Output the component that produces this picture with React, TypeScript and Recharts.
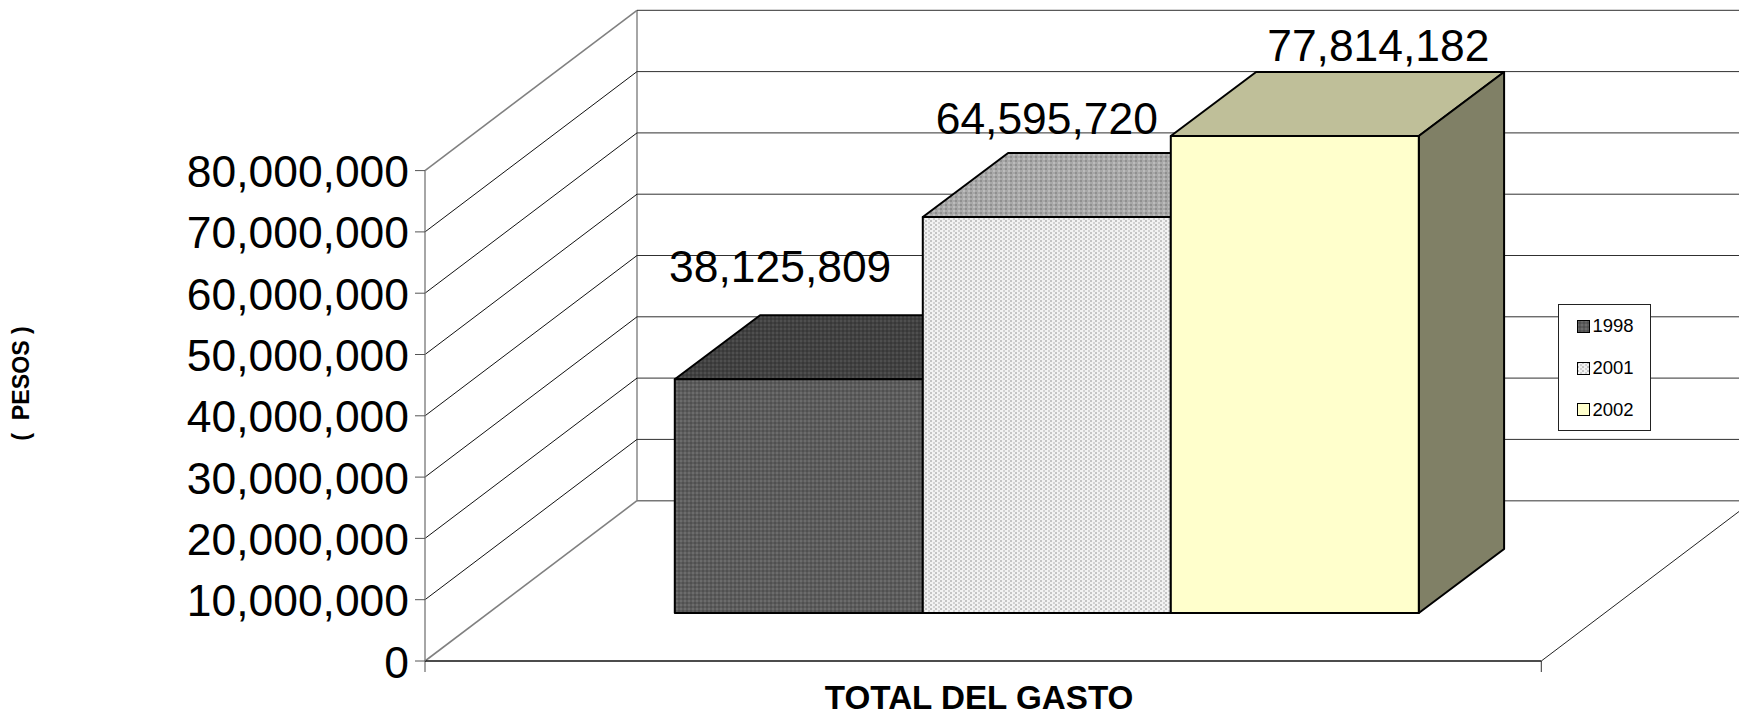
import { Bar, BarChart, CartesianGrid, LabelList, Legend, XAxis, YAxis } from "recharts";

const categories = ["TOTAL DEL GASTO"];
const series1998 = [38125809];
const series2001 = [64595720];
const series2002 = [77814182];
const yTicks = [0, 10000000, 20000000, 30000000, 40000000, 50000000, 60000000, 70000000, 80000000];

const data = categories.map((name, i) => ({
  name,
  y1998: series1998[i],
  y2001: series2001[i],
  y2002: series2002[i],
}));

const WIDTH = 1739;
const HEIGHT = 712;
const FONT = '"Liberation Sans", Arial, sans-serif';

// oblique offsets of the fake 3D box
const WALL = { dx: 212, dy: 160.3 };
const BAR_FRONT = { dx: 64.3, dy: 48 };
const BAR_DEPTH = { dx: 85.3, dy: 64 };

const topFill: Record<string, string> = {
  y1998: "url(#top1998)",
  y2001: "url(#top2001)",
  y2002: "#bfbf99",
};
const sideFill: Record<string, string> = {
  y1998: "#333333",
  y2001: "#777777",
  y2002: "#808066",
};

function GridLine(props: any) {
  const { x1, x2, y1, x, y, height } = props;
  const isFloor = Math.abs(y1 - (y + height)) < 1;
  const isTop = Math.abs(y1 - y) < 1;
  const edge = isFloor || isTop;
  const rearY = y1 - WALL.dy;
  return (
    <g>
      <line
        x1={x1}
        y1={y1}
        x2={x1 + WALL.dx}
        y2={rearY}
        stroke={edge ? "#808080" : "#111111"}
        strokeWidth={edge ? 1.6 : 1}
      />
      <line
        x1={x1 + WALL.dx}
        y1={rearY}
        x2={x2 + WALL.dx}
        y2={rearY}
        stroke={isFloor ? "#777777" : "#303030"}
        strokeWidth={isFloor ? 1.6 : 1}
      />
      {isFloor && (
        <>
          <line
            x1={x1 + WALL.dx}
            y1={y - WALL.dy}
            x2={x1 + WALL.dx}
            y2={rearY}
            stroke="#808080"
            strokeWidth={1.4}
          />
          <line x1={x2} y1={y1} x2={x2 + WALL.dx} y2={rearY} stroke="#222222" />
          <line x1={x1} y1={y1} x2={x1} y2={y1 + 11} stroke="#808080" strokeWidth={1.4} />
          <line x1={x2} y1={y1} x2={x2} y2={y1 + 11} stroke="#333333" />
        </>
      )}
    </g>
  );
}

function Bar3D(props: any) {
  const { x, y, width, height, fill, dataKey } = props;
  const left = x + BAR_FRONT.dx;
  const top = y - BAR_FRONT.dy;
  const right = left + width;
  const bottom = top + height;
  const bx = BAR_DEPTH.dx;
  const by = BAR_DEPTH.dy;
  return (
    <g stroke="#000000" strokeWidth={2} strokeLinejoin="round">
      <polygon
        points={`${left},${top} ${left + bx},${top - by} ${right + bx},${top - by} ${right},${top}`}
        fill={topFill[dataKey]}
      />
      <polygon
        points={`${right},${top} ${right + bx},${top - by} ${right + bx},${bottom - by} ${right},${bottom}`}
        fill={sideFill[dataKey]}
      />
      <rect x={left} y={top} width={width} height={height} fill={fill} />
    </g>
  );
}

function ValueLabel({ nudge, ...props }: any) {
  const { x, y, width, value } = props;
  return (
    <text
      x={x + BAR_FRONT.dx + width / 2 + nudge[0]}
      y={y - BAR_FRONT.dy + nudge[1]}
      textAnchor="middle"
      fontFamily={FONT}
      fontSize={44.4}
      fill="#000000"
    >
      {Number(value).toLocaleString("en-US")}
    </text>
  );
}

function YTick({ x, y, payload }: any) {
  return (
    <text x={x} y={y + 16.5} textAnchor="end" fontFamily={FONT} fontSize={44.4} fill="#000000">
      {Number(payload.value).toLocaleString("en-US")}
    </text>
  );
}

function XTick({ x, payload }: any) {
  return (
    <text x={x - 4} y={709} textAnchor="middle" fontFamily={FONT} fontSize={33.2} fontWeight={700} fill="#000000">
      {payload.value}
    </text>
  );
}

function PesosLabel() {
  return (
    <text
      transform="translate(29,383.5) rotate(-90)"
      textAnchor="middle"
      fontFamily={FONT}
      fontSize={23.2}
      fontWeight={700}
      fill="#000000"
    >
      {"(\u00a0\u00a0PESOS\u00a0)"}
    </text>
  );
}

function LegendBox({ payload }: any) {
  return (
    <div
      style={{
        boxSizing: "border-box",
        width: 93,
        height: 127,
        paddingTop: 1,
        background: "#ffffff",
        border: "1px solid #222222",
        fontFamily: FONT,
        fontSize: 18.5,
        color: "#000000",
      }}
    >
      {(payload ?? []).map((item: any) => (
        <div
          key={item.value}
          style={{ display: "flex", alignItems: "center", height: 41.8, paddingLeft: 18 }}
        >
          <svg width={13} height={13} style={{ marginRight: 3 }}>
            <rect x={0.5} y={0.5} width={12} height={12} fill={item.color} stroke="#000000" />
          </svg>
          <span>{item.value}</span>
        </div>
      ))}
    </div>
  );
}

export default function App() {
  return (
    <div style={{ position: "absolute", left: 0, top: 0, width: WIDTH, height: HEIGHT, overflow: "hidden", background: "#ffffff" }}>
      <BarChart
        width={WIDTH}
        height={HEIGHT}
        data={data}
        margin={{ top: 170.6, right: 197.7, bottom: 0, left: 0 }}
        barGap={0}
        barCategoryGap={185.5}
      >
        <defs>
          <pattern id="front1998" width={4} height={4} patternUnits="userSpaceOnUse">
            <rect width={4} height={4} fill="#5c5c5c" />
            <rect width={2} height={2} fill="#6c6c6c" />
            <rect x={2} y={2} width={2} height={2} fill="#505050" />
          </pattern>
          <pattern id="top1998" width={4} height={4} patternUnits="userSpaceOnUse">
            <rect width={4} height={4} fill="#414141" />
            <rect width={2} height={2} fill="#4f4f4f" />
            <rect x={2} y={2} width={2} height={2} fill="#383838" />
          </pattern>
          <pattern id="front2001" width={5} height={4} patternUnits="userSpaceOnUse">
            <rect width={5} height={4} fill="#f2f2f2" />
            <rect width={2} height={2} fill="#c4c4c4" />
            <rect x={3} y={2} width={2} height={2} fill="#d2d2d2" />
          </pattern>
          <pattern id="top2001" width={5} height={4} patternUnits="userSpaceOnUse">
            <rect width={5} height={4} fill="#a8a8a8" />
            <rect width={2} height={2} fill="#8f8f8f" />
            <rect x={3} y={2} width={2} height={2} fill="#bcbcbc" />
          </pattern>
        </defs>
        <CartesianGrid horizontal={(p: any) => <GridLine key={p.key} {...p} />} vertical={false} />
        <XAxis
          dataKey="name"
          height={51}
          tickLine={false}
          axisLine={{ stroke: "#111111", strokeWidth: 1.4 }}
          tick={<XTick />}
          interval={0}
        />
        <YAxis
          width={425}
          domain={[0, 80000000]}
          ticks={yTicks}
          interval={0}
          tickSize={10}
          tickMargin={6}
          tickLine={{ stroke: "#555555" }}
          axisLine={{ stroke: "#808080", strokeWidth: 1.4 }}
          tick={<YTick />}
          label={<PesosLabel />}
        />
        <Legend
          layout="vertical"
          align="center"
          verticalAlign="middle"
          wrapperStyle={{ left: 1557.5, top: 303.5, width: 93, height: 127 }}
          content={<LegendBox />}
        />
        <Bar dataKey="y1998" name="1998" fill="url(#front1998)" shape={<Bar3D />} isAnimationActive={false}>
          <LabelList dataKey="y1998" content={<ValueLabel nudge={[-18.6, -97]} />} />
        </Bar>
        <Bar dataKey="y2001" name="2001" fill="url(#front2001)" shape={<Bar3D />} isAnimationActive={false}>
          <LabelList dataKey="y2001" content={<ValueLabel nudge={[0, -83]} />} />
        </Bar>
        <Bar dataKey="y2002" name="2002" fill="#ffffcc" shape={<Bar3D />} isAnimationActive={false}>
          <LabelList dataKey="y2002" content={<ValueLabel nudge={[83.5, -75]} />} />
        </Bar>
      </BarChart>
    </div>
  );
}
